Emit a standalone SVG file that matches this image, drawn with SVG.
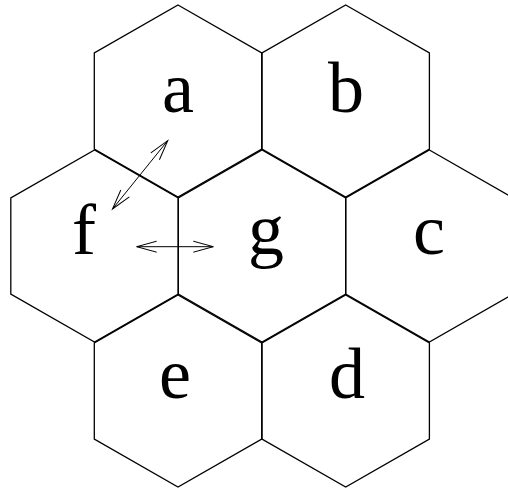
<svg xmlns="http://www.w3.org/2000/svg" width="508" height="491" viewBox="0 0 508 491">
<style>
.hex{fill:none;stroke:#000;stroke-width:1.3;stroke-linejoin:miter}
.lbl{font-family:"Liberation Serif","Times New Roman",serif;font-size:72px;fill:#000;text-anchor:middle}
.arr{fill:none;stroke:#000;stroke-width:1}
</style>
<defs>
<marker id="ah" markerUnits="userSpaceOnUse" markerWidth="24" markerHeight="14" viewBox="-22 -7 24 14" refX="0" refY="0" orient="auto-start-reverse">
<path d="M-20,-5.5 L0,0 L-20,5.5" fill="none" stroke="#000" stroke-width="1"/>
</marker>
<polygon id="hx" points="0,-96 83.7,-48 83.7,48 0,96 -83.7,48 -83.7,-48"/>
</defs>
<g id="a"><use href="#hx" class="hex" transform="translate(178,101)"/><text class="lbl" x="178" y="112">a</text></g>
<g id="b"><use href="#hx" class="hex" transform="translate(345.7,101)"/><text class="lbl" x="346" y="112">b</text></g>
<g id="f"><use href="#hx" class="hex" transform="translate(94.5,246)"/><text class="lbl" x="84" y="254">f</text></g>
<g id="g"><use href="#hx" class="hex" transform="translate(262,246)"/><text class="lbl" x="266" y="254">g</text></g>
<g id="c"><use href="#hx" class="hex" transform="translate(429.4,246)"/><text class="lbl" x="429" y="254">c</text></g>
<g id="e"><use href="#hx" class="hex" transform="translate(178,391)"/><text class="lbl" x="175" y="398">e</text></g>
<g id="d"><use href="#hx" class="hex" transform="translate(345.7,391)"/><text class="lbl" x="347" y="398">d</text></g>
<g id="connectors">
<line class="arr" x1="112.5" y1="209" x2="167.7" y2="140.7" marker-start="url(#ah)" marker-end="url(#ah)"/>
<line class="arr" x1="136.7" y1="246.7" x2="213.3" y2="246.7" marker-start="url(#ah)" marker-end="url(#ah)"/>
</g>
</svg>
